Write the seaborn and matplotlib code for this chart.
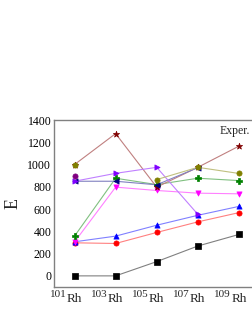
import matplotlib
matplotlib.use('Agg')
import matplotlib.pyplot as plt
import matplotlib.colors as mcolors
import seaborn as sns
import numpy as np
import pandas as pd

# mass numbers of the Rh isotopes
isotopes = [101, 103, 105, 107, 109]
element = 'Rh'

# energies (nan = no point)
nan = np.nan
e_black = [0, 0, 128, 268, 372]
e_red = [297, 291, 390, 485, 568]
e_blue = [306, 357, 455, 544, 624]
e_magenta = [305, 797, 767, 743, 737]
e_green = [357, 877, 820, 877, 856]
e_brown = [1000, 1278, 797, 975, 1165]
e_olive = [1000, nan, 865, 975, 920]
e_navy = [850, 850, 818, 972, nan]
e_violet = [850, 921, 975, 553, nan]
e_purple = [900, nan, nan, nan, nan]

series = [
    ('black', e_black, 's', '#000000'),
    ('red', e_red, 'o', '#ff0000'),
    ('blue', e_blue, '^', '#0000ff'),
    ('magenta', e_magenta, 'v', '#ff00ff'),
    ('green', e_green, 'P', '#008000'),
    ('brown', e_brown, '*', '#800000'),
    ('navy', e_navy, '<', '#000080'),
    ('violet', e_violet, '>', '#8000ff'),
    ('olive', e_olive, 'o', '#808000'),
    ('purple', e_purple, 'o', '#800080'),
]

sns.set_theme(style='white')
plt.rcParams['font.family'] = ['Liberation Serif', 'DejaVu Serif']

fig = plt.figure(figsize=(2.53, 3.27), dpi=100)
ax = fig.add_axes([0.2134, 0.1223, 0.812, 0.5107])


def lighten(c, f=0.5):
    r, g, b = mcolors.to_rgb(c)
    return (r + (1 - r) * f, g + (1 - g) * f, b + (1 - b) * f)


for name, vals, m, c in series:
    df = pd.DataFrame({'A': isotopes, 'E': vals})
    # plain plot keeps gaps where a value is missing
    ax.plot(df['A'], df['E'], color=lighten(c), lw=0.8, zorder=2)
    sns.scatterplot(data=df.dropna(), x='A', y='E', marker=m, color=c,
                    edgecolor=c, s=14 if m != '*' else 22, linewidth=0.5,
                    ax=ax, zorder=3, legend=False)

ax.set_xlim(100, 110)
ax.set_ylim(-100, 1400)
ax.set_xticks(isotopes)
ax.set_xticklabels([])
ax.set_yticks(np.arange(0, 1401, 200))
ax.tick_params(axis='y', length=0, labelsize=8.5, pad=2, colors='black')
ax.tick_params(axis='x', length=0)

# isotope labels: mass number raised to the left of the symbol
xtr = ax.get_xaxis_transform()
for a in isotopes:
    ax.annotate(element, xy=(a, 0), xycoords=xtr, xytext=(0, -4.0),
                textcoords='offset points', ha='center', va='top',
                fontsize=9.5, annotation_clip=False)
    ax.annotate(str(a), xy=(a, 0), xycoords=xtr, xytext=(-5.6, -1.8),
                textcoords='offset points', ha='right', va='top',
                fontsize=8, annotation_clip=False)

for sp in ax.spines.values():
    sp.set_color('#808080')
    sp.set_linewidth(1.0)
ax.set_xlabel('')
ax.set_ylabel('E', fontsize=13, labelpad=4)
ax.text(108.8, 1300, 'Exper.', fontsize=8.5, ha='center', va='center')

fig.savefig('out.png', dpi=100)
